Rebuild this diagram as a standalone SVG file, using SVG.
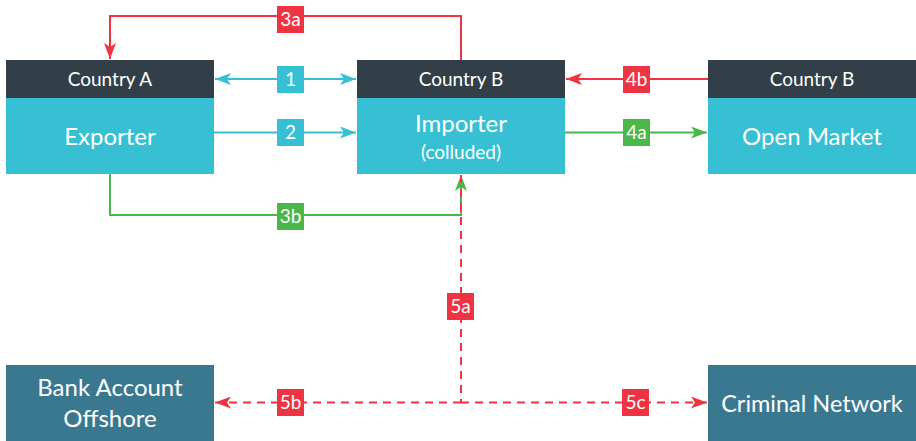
<svg xmlns="http://www.w3.org/2000/svg" width="916" height="441" viewBox="0 0 916 441">
<style>
.hdr{fill:#323f48}
.body{fill:#37bfd4}
.dark{fill:#3a7890}
text{font-family:Lato,"Open Sans","Liberation Sans",sans-serif;fill:#ffffff;text-anchor:middle}
.h{font-size:19px}
.t{font-size:24px}
.s{font-size:19px}
.l{font-size:19px}
.c{stroke:#37bfd4;stroke-width:2;fill:none}
.r{stroke:#ee3342;stroke-width:2;fill:none}
.g{stroke:#4bb748;stroke-width:2;fill:none}
.d{stroke-dasharray:8 6}
</style>
<defs>
<marker id="ac" markerWidth="16" markerHeight="12" refX="16" refY="6" orient="auto-start-reverse" markerUnits="userSpaceOnUse"><path d="M0,0 L16,6 L0,12 L4,6 Z" fill="#37bfd4"/></marker>
<marker id="ar" markerWidth="16" markerHeight="12" refX="16" refY="6" orient="auto-start-reverse" markerUnits="userSpaceOnUse"><path d="M0,0 L16,6 L0,12 L4,6 Z" fill="#ee3342"/></marker>
<marker id="ag" markerWidth="16" markerHeight="12" refX="16" refY="6" orient="auto-start-reverse" markerUnits="userSpaceOnUse"><path d="M0,0 L16,6 L0,12 L4,6 Z" fill="#4bb748"/></marker>
</defs>
<g id="connectors">
<path class="r" d="M461,60 V16 H110 V59" marker-end="url(#ar)"/>
<path class="c" d="M215,79 H356" marker-start="url(#ac)" marker-end="url(#ac)"/>
<path class="c" d="M214,132.5 H356" marker-end="url(#ac)"/>
<path class="g" d="M110,174 V215 H461 V175" marker-end="url(#ag)"/>
<path class="r d" d="M461,175 V402.5"/>
<path class="r d" d="M461,402.5 H215" marker-end="url(#ar)"/>
<path class="r d" d="M461,402.5 H707" marker-end="url(#ar)"/>
<path class="r" d="M708,79 H566" marker-end="url(#ar)"/>
<path class="g" d="M565,132.5 H707" marker-end="url(#ag)"/>
<g id="labels">
<rect x="277" y="6" width="27" height="27" fill="#ee3342"/><text class="l" x="290.5" y="26">3a</text>
<rect x="277" y="66" width="27" height="27" fill="#37bfd4"/><text class="l" x="290.5" y="86">1</text>
<rect x="277" y="119" width="27" height="27" fill="#37bfd4"/><text class="l" x="290.5" y="139">2</text>
<rect x="277" y="203" width="27" height="27" fill="#4bb748"/><text class="l" x="290.5" y="223">3b</text>
<rect x="623" y="66" width="27" height="27" fill="#ee3342"/><text class="l" x="636.5" y="86">4b</text>
<rect x="623" y="119" width="27" height="27" fill="#4bb748"/><text class="l" x="636.5" y="139">4a</text>
<rect x="447" y="293" width="27" height="27" fill="#ee3342"/><text class="l" x="460.5" y="313">5a</text>
<rect x="277" y="389" width="27" height="27" fill="#ee3342"/><text class="l" x="290.5" y="409">5b</text>
<rect x="622" y="389" width="27" height="27" fill="#ee3342"/><text class="l" x="635.5" y="409">5c</text>
</g>
</g>
<g id="exporter">
<rect class="hdr" x="6" y="60" width="208" height="38"/>
<rect class="body" x="6" y="98" width="208" height="76"/>
<text class="h" x="110" y="86">Country A</text>
<text class="t" x="110" y="145">Exporter</text>
</g>
<g id="importer">
<rect class="hdr" x="357" y="60" width="208" height="38"/>
<rect class="body" x="357" y="98" width="208" height="76"/>
<text class="h" x="461" y="86">Country B</text>
<text class="t" x="461" y="132">Importer</text>
<text class="s" x="461" y="159">(colluded)</text>
</g>
<g id="openmarket">
<rect class="hdr" x="708" y="60" width="208" height="38"/>
<rect class="body" x="708" y="98" width="208" height="76"/>
<text class="h" x="812" y="86">Country B</text>
<text class="t" x="812" y="145">Open Market</text>
</g>
<g id="bank">
<rect class="dark" x="6" y="365" width="208" height="76"/>
<text class="t" x="110" y="396">Bank Account</text>
<text class="t" x="110" y="427">Offshore</text>
</g>
<g id="criminal">
<rect class="dark" x="708" y="365" width="208" height="76"/>
<text class="t" x="812" y="412" style="font-size:23.5px">Criminal Network</text>
</g>
</svg>
